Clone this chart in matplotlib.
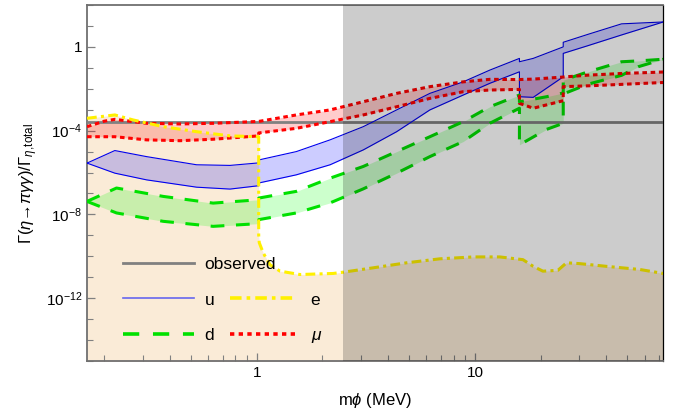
import numpy as np
import matplotlib
matplotlib.use('Agg')
import matplotlib.pyplot as plt
from matplotlib.ticker import FixedLocator, NullFormatter
from matplotlib.lines import Line2D

plt.rcParams['font.family'] = ['Liberation Sans', 'DejaVu Sans']
plt.rcParams['mathtext.fontset'] = 'custom'
plt.rcParams['mathtext.rm'] = 'Liberation Sans'
plt.rcParams['mathtext.it'] = 'Liberation Sans:italic'

# data: masses in MeV, ratios as log10 values
# u quark band (blue)
u_mass = [0.167, 0.224, 0.313, 0.531, 0.755, 1.022, 1.022, 1.52, 2.17, 3.08, 4.38, 6.22,
          8.84, 11.7, 16.0, 16.0, 18.5, 25.4, 25.4, 33.0, 47.0, 73.0]
u_hi = [-5.55, -4.95, -5.24, -5.63, -5.66, -5.54, -5.40, -5.00, -4.44, -3.81, -3.01, -2.22,
        -1.67, -1.11, -0.55, -0.71, -0.55, 0.00, 0.22, 0.60, 1.10, 1.19]
u_lo = [-5.55, -6.03, -6.35, -6.70, -6.79, -6.63, -6.50, -6.11, -5.63, -4.92, -4.05, -3.01,
        -2.30, -1.74, -1.19, -2.38, -2.41, -1.43, -0.31, 0.06, 0.57, 1.19]

# muon band (red)
mu_mass = [0.167, 0.20, 0.224, 0.313, 0.445, 0.632, 1.022, 1.022, 1.52, 2.17, 3.08, 4.38, 6.22,
           8.84, 11.7, 16.0, 16.0, 16.9, 18.5, 25.4, 25.4, 33.0, 47.0, 73.0]
mu_hi = [-3.81, -3.55, -3.46, -3.65, -3.68, -3.65, -3.56, -3.56, -3.25, -3.01, -2.62, -2.22, -1.90,
         -1.67, -1.55, -1.56, -1.56, -1.55, -1.54, -1.44, -1.44, -1.35, -1.27, -1.20]
mu_lo = [-4.29, -4.29, -4.29, -4.44, -4.48, -4.41, -4.25, -4.11, -3.89, -3.57, -3.25, -2.86, -2.46,
         -2.14, -2.06, -2.03, -2.70, -2.78, -2.93, -2.57, -1.90, -1.86, -1.79, -1.70]

# d quark band (green)
d_mass = [0.167, 0.228, 0.373, 0.632, 1.022, 1.022, 1.52, 2.17, 3.08, 4.38, 6.22, 8.84, 11.7,
          16.0, 16.0, 21.3, 25.4, 25.4, 28.2, 33.0, 47.0, 56.0, 73.0]
d_hi = [-7.38, -6.74, -7.14, -7.46, -7.30, -7.22, -6.90, -6.27, -5.71, -5.00, -4.29, -3.57, -2.86,
        -2.30, -2.62, -2.38, -2.20, -1.59, -1.43, -1.19, -0.71, -0.67, -0.59]
d_lo = [-7.38, -7.93, -8.33, -8.57, -8.44, -8.25, -7.93, -7.45, -6.78, -6.03, -5.24, -4.52, -3.65,
        -2.93, -4.68, -3.94, -3.65, -2.25, -2.06, -1.78, -1.36, -0.95, -0.59]

# electron curve (yellow) and the region below it
e_mass = [0.167, 0.224, 0.272, 0.373, 0.531, 0.755, 1.022, 1.022, 1.028, 1.072, 1.15, 1.28, 1.58,
          2.24, 2.49, 3.42, 4.87, 6.92, 9.84, 13.0, 16.6, 18.5, 20.5, 24.0, 26.3, 30.2, 40.1,
          57.0, 73.0]
e_val = [-3.41, -3.25, -3.49, -3.81, -4.05, -4.25, -4.29, -9.0, -9.35, -9.84, -10.40, -10.71, -10.87,
         -10.82, -10.76, -10.55, -10.31, -10.12, -10.03, -10.03, -10.16, -10.48, -10.71, -10.67,
         -10.31, -10.35, -10.48, -10.63, -10.82]

observed = 2.7e-4
excluded_from = 2.5

y_major = [1e-12, 1e-8, 1e-4, 1e0]
y_major_labels = ['$10^{-12}$', '$10^{-8}$', '$10^{-4}$', '1']
x_major = [1, 10]
x_major_labels = ['1', '10']

fig = plt.figure(figsize=(6.83, 4.15), dpi=100)
ax = fig.add_axes([87/683, 1-361/415, (663.3-87)/683, 356/415])
ax.set_xscale('log')
ax.set_yscale('log')
ax.set_xlim(0.167, 73)
ax.set_ylim(1e-15, 1e2)

# tan region below the electron curve
ax.fill_between(e_mass, 1e-16, 10**np.array(e_val), color='#faebd7', lw=0, zorder=1)

# coupling bands
ax.fill_between(mu_mass, 10**np.array(mu_lo), 10**np.array(mu_hi), color='red', alpha=0.2, lw=0, zorder=2)
ax.fill_between(u_mass, 10**np.array(u_lo), 10**np.array(u_hi), color='blue', alpha=0.2, lw=0, zorder=2)
ax.fill_between(d_mass, 10**np.array(d_lo), 10**np.array(d_hi), color='#00ff00', alpha=0.2, lw=0, zorder=2)

ax.axhline(observed, color='#808080', lw=2.0, zorder=3)

blue_kw = dict(color='#0000ee', lw=0.8, zorder=4)
ax.plot(u_mass, 10**np.array(u_hi), **blue_kw)
ax.plot(u_mass, 10**np.array(u_lo), **blue_kw)

green_kw = dict(color='#00e000', lw=2.2, dashes=(4.5, 3.8), zorder=4)
ax.plot(d_mass, 10**np.array(d_hi), **green_kw)
ax.plot(d_mass, 10**np.array(d_lo), **green_kw)

red_kw = dict(color='#ff0000', lw=2.2, dashes=(1.5, 1.2), zorder=4)
ax.plot(mu_mass, 10**np.array(mu_hi), **red_kw)
ax.plot(mu_mass, 10**np.array(mu_lo), **red_kw)

yellow_kw = dict(color='#fff000', lw=2.2, dashes=(3.2, 1.4, 1.0, 1.4), zorder=5)
ax.plot(e_mass, 10**np.array(e_val), **yellow_kw)

# grey excluded region, drawn on top of everything
ax.axvspan(excluded_from, 73, color='black', alpha=0.2, lw=0, zorder=6)

# ticks
ax.xaxis.set_major_locator(FixedLocator(x_major))
ax.set_xticklabels(x_major_labels)
ax.xaxis.set_minor_formatter(NullFormatter())
ax.yaxis.set_major_locator(FixedLocator(y_major))
ax.set_yticklabels(y_major_labels)
ax.yaxis.set_minor_locator(FixedLocator([10.0**k for k in range(-15, 3) if k % 4 != 0]))
ax.yaxis.set_minor_formatter(NullFormatter())
ax.tick_params(which='both', direction='in', color='#808080', labelsize=11, top=False, right=False)
ax.tick_params(which='major', length=5.5, width=0.9)
ax.tick_params(which='minor', length=4, width=0.8)
for side in ['left', 'bottom', 'top']:
    ax.spines[side].set_color('#707070')
    ax.spines[side].set_linewidth(1.3)
ax.spines['right'].set_color('black')
ax.spines['right'].set_linewidth(0.9)

ax.set_xlabel(r'm$\phi$ (MeV)', fontsize=12, labelpad=8)
ax.set_ylabel(r'$\Gamma(\eta$→$\pi\gamma\gamma)/\Gamma_{\eta,\!\mathrm{total}}$', fontsize=12, labelpad=4)

# legend in two pieces so that "observed" can run under the second column
h_obs = Line2D([], [], color='#808080', lw=2.0)
h_u = Line2D([], [], color='#6666ee', lw=1.2)
h_d = Line2D([], [], color='#00e000', lw=2.6, dashes=(4.5, 3.8))
h_e = Line2D([], [], color='#fff000', lw=2.6, dashes=(3.2, 1.4, 1.0, 1.4))
h_mu = Line2D([], [], color='#ff0000', lw=2.6, dashes=(1.2, 1.2))

leg1 = ax.legend([h_obs, h_u, h_d], ['observed', 'u', 'd'], loc='center left',
                 bbox_to_anchor=(123/683, 1-300/415), bbox_transform=fig.transFigure,
                 frameon=False, fontsize=12.5, handlelength=4.1, handletextpad=0.6,
                 labelspacing=1.15, borderpad=0, borderaxespad=0)
leg1.set_zorder(7)
ax.add_artist(leg1)
leg2 = ax.legend([h_e, h_mu], ['e', r'$\mu$'], loc='center left',
                 bbox_to_anchor=(230/683, 1-318.5/415), bbox_transform=fig.transFigure,
                 frameon=False, fontsize=12.5, handlelength=3.8, handletextpad=0.85,
                 labelspacing=1.15, borderpad=0, borderaxespad=0)
leg2.set_zorder(7)

fig.savefig('out.png', dpi=100)
